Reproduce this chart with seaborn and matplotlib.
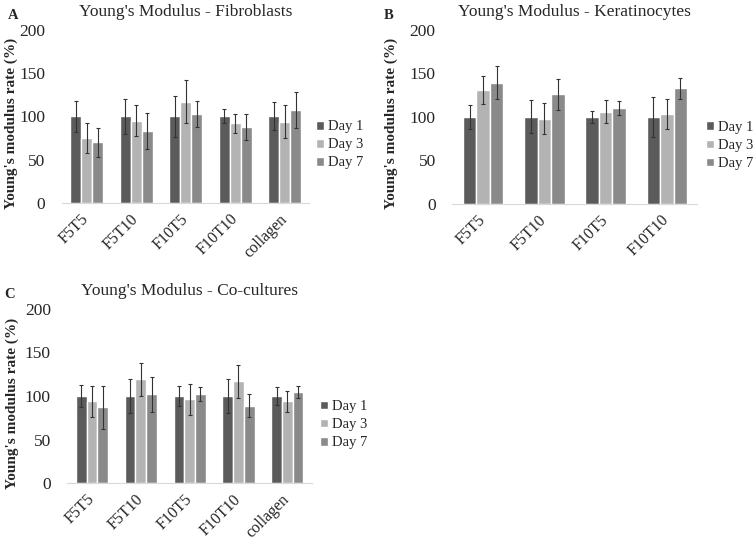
import pandas as pd
import numpy as np
import matplotlib
matplotlib.use("Agg")
import matplotlib.pyplot as plt
import seaborn as sns

# Data
days = ["Day 1", "Day 3", "Day 7"]
day_colors = ["#5b5b5b", "#b3b3b3", "#8a8a8a"]

fib_groups = ["F5T5", "F5T10", "F10T5", "F10T10", "collagen"]
fib_mean = {"Day 1": [100, 100, 100, 100, 100],
            "Day 3": [75, 95, 117, 92, 94],
            "Day 7": [70, 83, 103, 88, 107]}
fib_err = {"Day 1": [18, 20, 24, 8, 16],
           "Day 3": [17, 18, 25, 11, 19],
           "Day 7": [17, 21, 15, 15, 21]}

ker_groups = ["F5T5", "F5T10", "F10T5", "F10T10"]
ker_mean = {"Day 1": [100, 100, 100, 100],
            "Day 3": [131, 98, 106, 103],
            "Day 7": [139, 126, 110, 133]}
ker_err = {"Day 1": [14, 19, 7, 23],
           "Day 3": [16, 18, 13, 17],
           "Day 7": [19, 18, 8, 12]}

co_groups = ["F5T5", "F5T10", "F10T5", "F10T10", "collagen"]
co_mean = {"Day 1": [100, 100, 100, 100, 100],
           "Day 3": [94, 119, 96, 117, 94],
           "Day 7": [87, 102, 102, 89, 105]}
co_err = {"Day 1": [13, 19, 12, 20, 10],
          "Day 3": [18, 19, 18, 19, 12],
          "Day 7": [25, 20, 8, 13, 7]}


def to_long(groups, mean, err):
    rows = []
    for d in days:
        for g, m, e in zip(groups, mean[d], err[d]):
            rows.append({"group": g, "day": d, "value": m, "err": e})
    return pd.DataFrame(rows)


sns.set_style("white")
plt.rcParams["font.family"] = ["Liberation Serif", "DejaVu Serif"]

fig = plt.figure(figsize=(7.54, 5.41), dpi=100)

# letter, title, data, axes rect, bar width, ylabel x, letter x, legend x
panels = [
    ("A", "Young's Modulus - Fibroblasts", fib_groups, fib_mean, fib_err,
     [0.0822, 0.625, 0.328, 0.320], 0.67, -0.178, -0.218, 1.026),
    ("B", "Young's Modulus - Keratinocytes", ker_groups, ker_mean, ker_err,
     [0.600, 0.623, 0.325, 0.322], 0.66, -0.224, -0.28, 1.033),
    ("C", "Young's Modulus - Co-cultures", co_groups, co_mean, co_err,
     [0.0895, 0.107, 0.324, 0.322], 0.66, -0.20, -0.26, 1.033),
]

for letter, title, groups, mean, err, rect, width, ylx, letx, legx in panels:
    ax = fig.add_axes(rect)
    df = to_long(groups, mean, err)
    sns.barplot(data=df, x="group", y="value", hue="day", order=groups,
                hue_order=days, palette=day_colors, errorbar=None,
                width=width, gap=0, saturation=1, ax=ax)

    # error bars on top of each bar
    for cont, d in zip(ax.containers, days):
        sub = df[df["day"] == d].set_index("group").loc[groups]
        xs = [p.get_x() + p.get_width() / 2 for p in cont.patches]
        ax.errorbar(xs, sub["value"], yerr=sub["err"], fmt="none",
                    ecolor="#333333", elinewidth=0.8, capsize=1.5,
                    capthick=0.8)

    ax.set_xlim(-0.5, len(groups) - 0.5)
    ax.set_ylim(0, 200)
    ax.set_yticks([0, 50, 100, 150, 200])
    ax.set_xlabel("")
    ax.set_ylabel("Young's modulus rate (%)", fontsize=11, fontweight="bold")
    ax.yaxis.set_label_coords(ylx, 0.46)
    ax.tick_params(axis="y", labelsize=12.5, length=0, pad=12)
    ax.tick_params(axis="x", labelsize=11.5, length=0, pad=10)
    for lab in ax.get_xticklabels():
        lab.set_rotation(45)
        lab.set_ha("right")
        lab.set_va("center")
        lab.set_rotation_mode("anchor")
    for s in ["top", "right", "left"]:
        ax.spines[s].set_visible(False)
    ax.spines["bottom"].set_color("#d9d9d9")
    ax.spines["bottom"].set_linewidth(0.8)

    ax.set_title(title, fontsize=12.5, pad=10)
    ax.text(letx, 1.064, letter, transform=ax.transAxes, fontsize=10.5,
            fontweight="bold", va="baseline", ha="left")

    ax.legend(loc="center left", bbox_to_anchor=(legx, 0.335),
              frameon=False, fontsize=10.5, handlelength=0.55,
              handleheight=0.55, handletextpad=0.3, labelspacing=0.35,
              borderaxespad=0, borderpad=0)

fig.savefig("out.png", dpi=100)
